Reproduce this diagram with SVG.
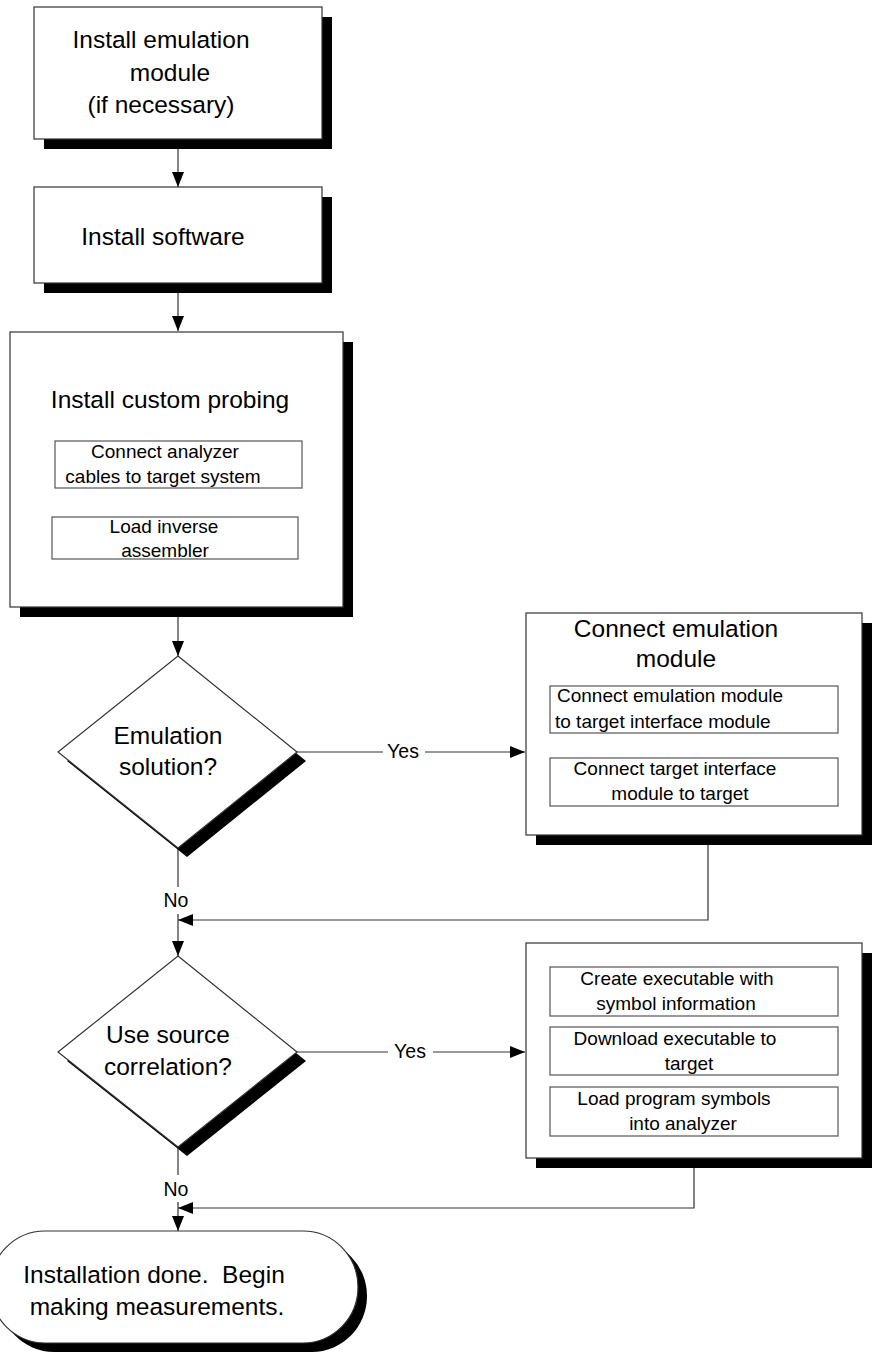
<svg xmlns="http://www.w3.org/2000/svg" width="872" height="1358" viewBox="0 0 872 1358">
<style>
.bg{fill:#fff}
.box{fill:#fff;stroke:#333;stroke-width:1.2}
.inner{fill:#fff;stroke:#555;stroke-width:1.2}
.sh{fill:#000}
.ln{fill:none;stroke:#333;stroke-width:1.2}
text{font-family:"Liberation Sans",Arial,sans-serif;fill:#000}
.h{font-size:24.5px}
.s{font-size:19px}
.l{font-size:19.5px}
.c{text-anchor:middle}
</style>
<defs>
<marker id="ah" viewBox="0 0 15 12" refX="15" refY="6" markerWidth="15" markerHeight="12" markerUnits="userSpaceOnUse" orient="auto">
<path d="M0,0 L15,6 L0,12 Z" fill="#000"/>
</marker>
</defs>
<rect class="bg" x="0" y="0" width="872" height="1358"/>

<g id="connectors">
<line class="ln" x1="178" y1="149" x2="178" y2="187" marker-end="url(#ah)"/>
<line class="ln" x1="178" y1="293" x2="178" y2="331" marker-end="url(#ah)"/>
<line class="ln" x1="178" y1="617" x2="178" y2="656" marker-end="url(#ah)"/>
<line class="ln" x1="297" y1="752" x2="383" y2="752"/>
<line class="ln" x1="425" y1="752" x2="525" y2="752" marker-end="url(#ah)"/>
<text class="l c" x="403" y="758">Yes</text>
<line class="ln" x1="178" y1="848" x2="178" y2="887"/>
<text class="l c" x="176" y="907">No</text>
<polyline class="ln" points="708,845 708,920 178,920" marker-end="url(#ah)"/>
<line class="ln" x1="178" y1="914" x2="178" y2="956" marker-end="url(#ah)"/>
<line class="ln" x1="297" y1="1052" x2="388" y2="1052"/>
<line class="ln" x1="433" y1="1052" x2="525" y2="1052" marker-end="url(#ah)"/>
<text class="l c" x="410" y="1058">Yes</text>
<line class="ln" x1="178" y1="1147" x2="178" y2="1175"/>
<text class="l c" x="176" y="1196">No</text>
<polyline class="ln" points="694,1168 694,1208 178,1208" marker-end="url(#ah)"/>
<line class="ln" x1="178" y1="1202" x2="178" y2="1231" marker-end="url(#ah)"/>
</g>

<g id="install-emulation">
<rect class="sh" x="44" y="17" width="288" height="132"/>
<rect class="box" x="34" y="7" width="288" height="132"/>
<text class="h c" x="161" y="48">Install emulation</text>
<text class="h c" x="170" y="81">module</text>
<text class="h c" x="161" y="113">(if necessary)</text>
</g>

<g id="install-software">
<rect class="sh" x="44" y="197" width="288" height="96"/>
<rect class="box" x="34" y="187" width="288" height="96"/>
<text class="h c" x="163" y="245">Install software</text>
</g>

<g id="install-probing">
<rect class="sh" x="20" y="342" width="333" height="275"/>
<rect class="box" x="10" y="332" width="333" height="275"/>
<text class="h c" x="170" y="408">Install custom probing</text>
<rect class="inner" x="55" y="441" width="247" height="47"/>
<text class="s c" x="165" y="458">Connect analyzer</text>
<text class="s c" x="163" y="483">cables to target system</text>
<rect class="inner" x="52" y="517" width="246" height="42"/>
<text class="s c" x="164" y="533">Load inverse</text>
<text class="s c" x="165" y="557">assembler</text>
</g>

<g id="emulation-decision">
<polygon class="sh" points="187,665 306,761 187,857 67,761"/>
<polygon class="box" points="178,656 297,752 178,848 58,752"/>
<text class="h c" x="168" y="744">Emulation</text>
<text class="h c" x="168" y="775">solution?</text>
</g>

<g id="connect-emulation">
<rect class="sh" x="536" y="623" width="336" height="222"/>
<rect class="box" x="526" y="613" width="336" height="222"/>
<text class="h c" x="676" y="637">Connect emulation</text>
<text class="h c" x="676" y="667">module</text>
<rect class="inner" x="550" y="686" width="288" height="47"/>
<text class="s" x="557" y="702">Connect emulation module</text>
<text class="s" x="555" y="728">to target interface module</text>
<rect class="inner" x="550" y="758" width="288" height="48"/>
<text class="s c" x="675" y="775">Connect target interface</text>
<text class="s c" x="680" y="800">module to target</text>
</g>

<g id="source-decision">
<polygon class="sh" points="187,965 306,1061 187,1156 67,1061"/>
<polygon class="box" points="178,956 297,1052 178,1147 58,1052"/>
<text class="h c" x="168" y="1043">Use source</text>
<text class="h c" x="168" y="1075">correlation?</text>
</g>

<g id="symbols">
<rect class="sh" x="536" y="953" width="336" height="215"/>
<rect class="box" x="526" y="943" width="336" height="215"/>
<rect class="inner" x="550" y="967" width="288" height="49"/>
<text class="s c" x="677" y="985">Create executable with</text>
<text class="s c" x="676" y="1010">symbol information</text>
<rect class="inner" x="550" y="1027" width="288" height="48"/>
<text class="s c" x="675" y="1045">Download executable to</text>
<text class="s c" x="689" y="1070">target</text>
<rect class="inner" x="550" y="1087" width="288" height="49"/>
<text class="s c" x="674" y="1105">Load program symbols</text>
<text class="s c" x="683" y="1130">into analyzer</text>
</g>

<g id="done">
<rect class="sh" x="-1" y="1240" width="368" height="112" rx="55" ry="56"/>
<rect class="box" x="-10" y="1231" width="368" height="112" rx="55" ry="56"/>
<text class="h c" x="154" y="1283" xml:space="preserve">Installation done.  Begin</text>
<text class="h c" x="157" y="1315">making measurements.</text>
</g>
</svg>
